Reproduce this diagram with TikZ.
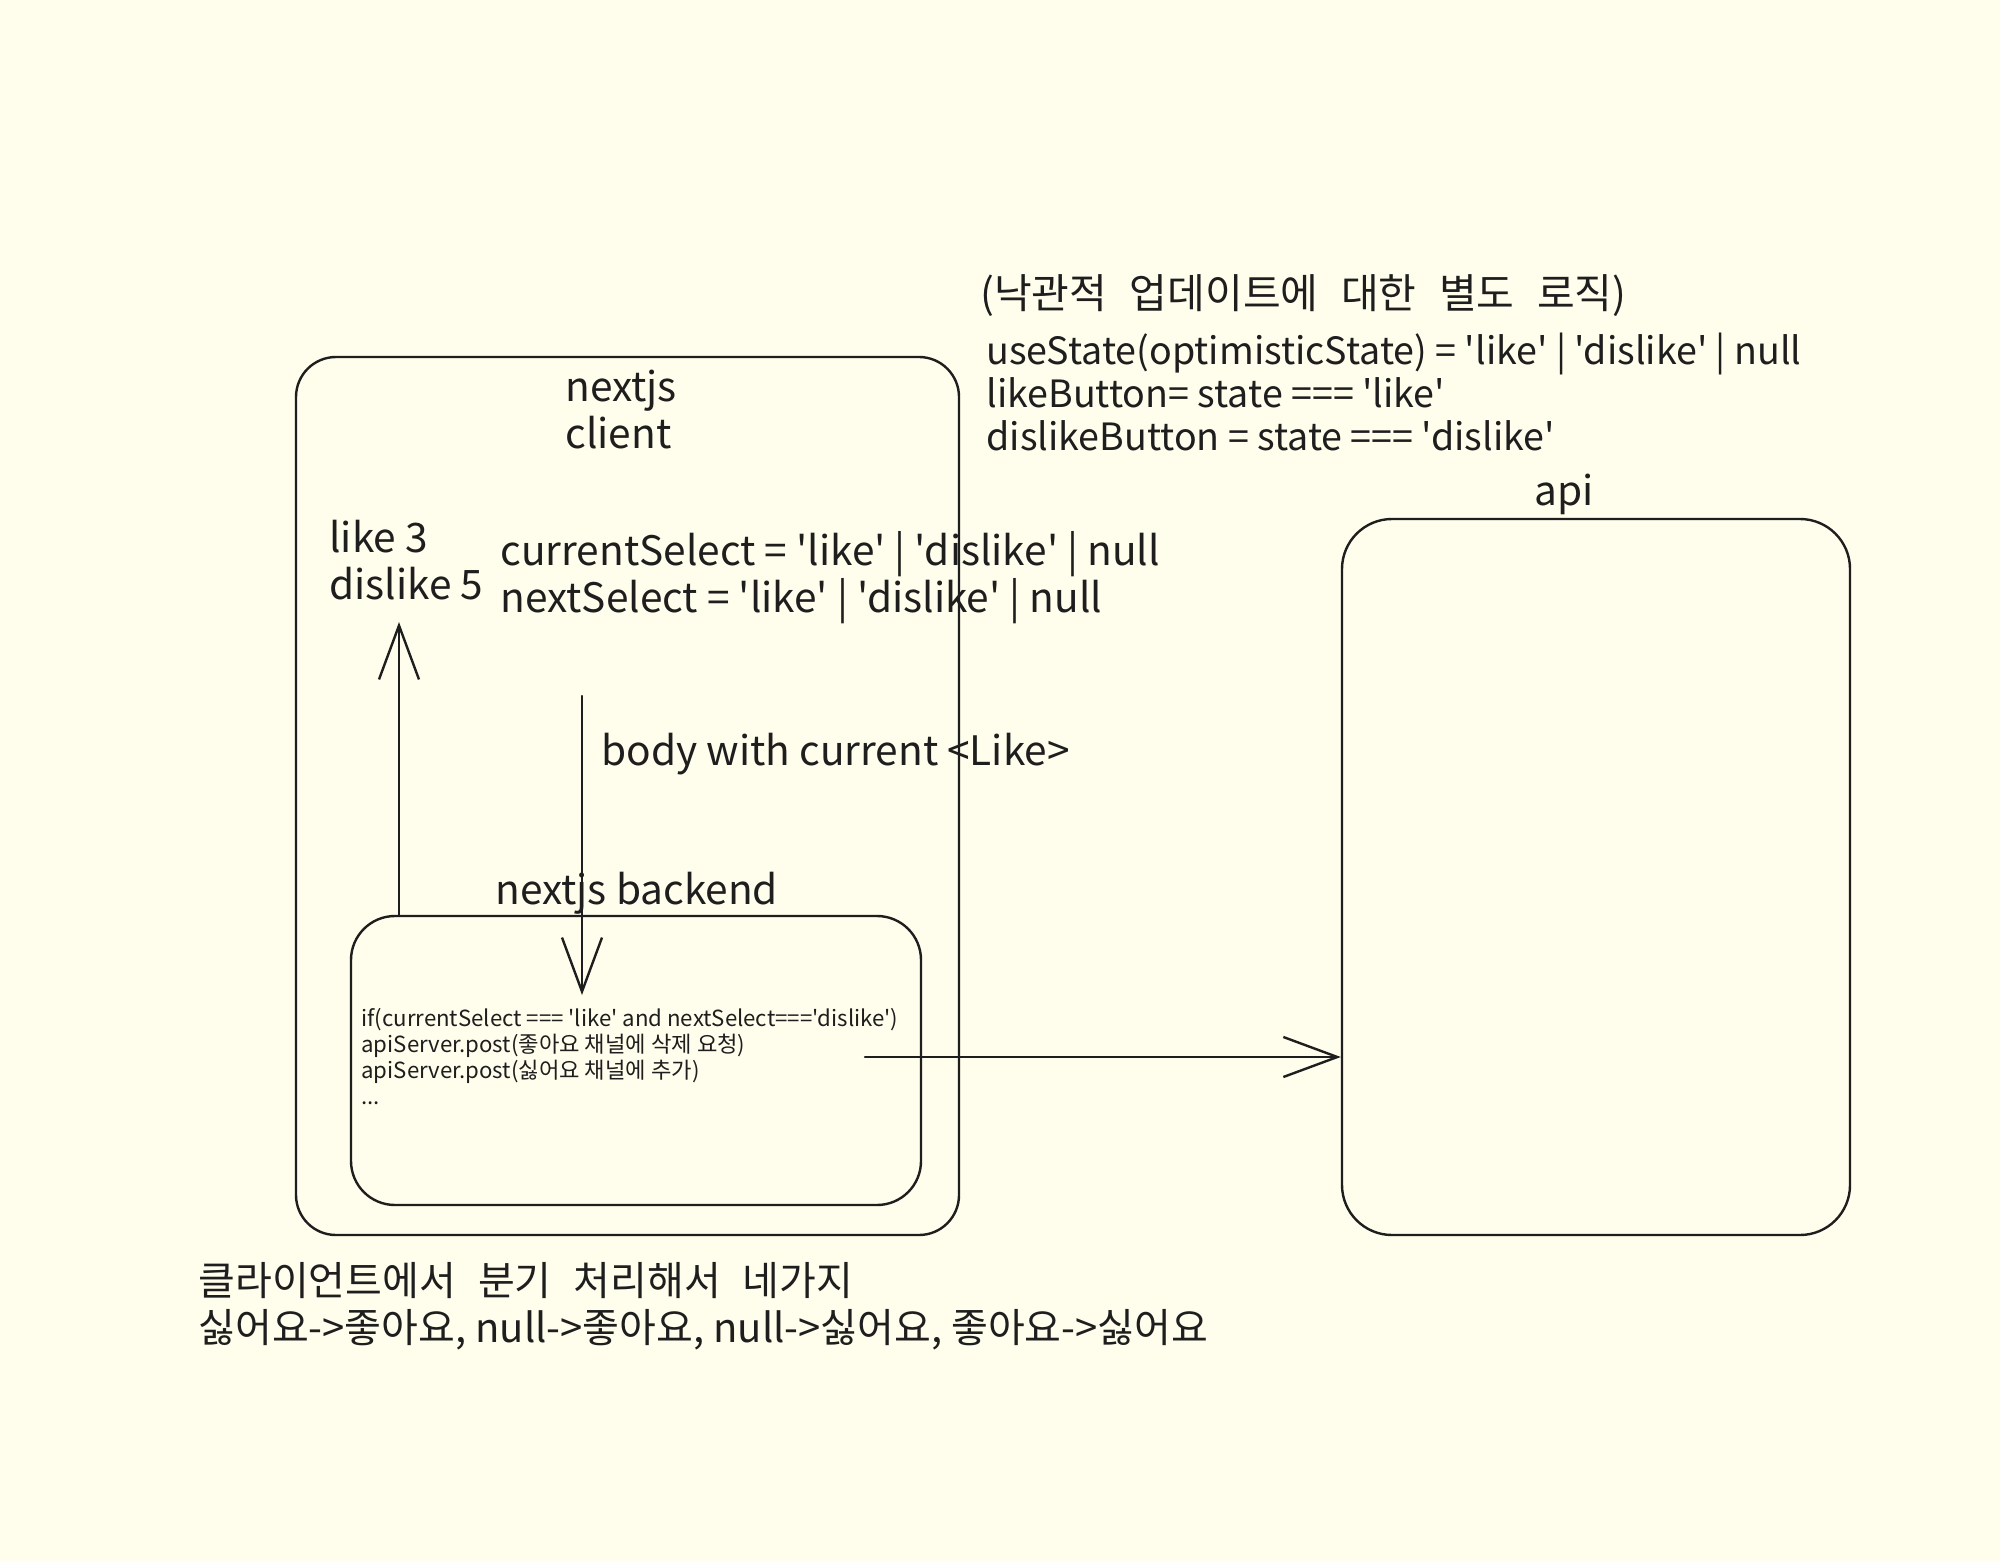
\documentclass[tikz,border=0pt]{standalone}
\usepackage{fontspec}
\newfontfamily\sketchfont{Noto Sans CJK KR}
\usetikzlibrary{arrows.meta, positioning}
\definecolor{paper}{RGB}{255,253,235}
\definecolor{ink}{RGB}{30,30,30}
\newcommand\kgap{\hspace{0.55em}}
\tikzset{
  sketchbox/.style={draw=ink, line width=1.2pt, rounded corners=20pt, inner sep=0pt},
  hand/.style={font=\sketchfont\fontsize{20.3}{23.5}\selectfont, text=ink, align=left,
    inner sep=0pt, anchor=west},
  statetxt/.style={font=\sketchfont\fontsize{18.8}{21.7}\selectfont, text=ink, align=left,
    inner sep=0pt, anchor=west},
  hangul/.style={font=\sketchfont\fontsize{20}{23.5}\selectfont, text=ink, align=left,
    inner sep=0pt, anchor=west},
  codetxt/.style={font=\sketchfont\fontsize{11.1}{13}\selectfont, text=ink, align=left,
    inner sep=0pt, anchor=west},
  arr/.style={-{Straight Barb[length=27pt, width=20pt]}, line width=1.2pt, ink, line cap=round}
}

\begin{document}
\begin{tikzpicture}[x=0.5pt, y=-0.5pt]
  \fill[paper] (0,0) rectangle (2000,1561);
  \useasboundingbox (0,0) rectangle (2000,1561);
  % boxes
  \node[sketchbox, minimum width=331.5pt, minimum height=439pt] (client) at (627.5,796) {};
  \node[sketchbox, rounded corners=22pt, minimum width=285pt, minimum height=144.5pt] (backend) at (636,1060.5) {};
  \node[sketchbox, rounded corners=25pt, minimum width=254pt, minimum height=358pt] (api) at (1596,877) {};
  % labels
  \node[hand] (clientlbl) at (565,410) {nextjs\\client};
  \node[hand, anchor=center] (apilbl) at (1564,494) {api};
  \node[hand] (counts) at (329,560) {like 3\\dislike 5};
  \node[hand] (select) at (500,578) {currentSelect = 'like' | 'dislike' | null\\nextSelect = 'like' | 'dislike' | null};
  \node[hand] (bodylbl) at (601,754) {body with current <Like>};
  \node[hand] (backendlbl) at (495,893) {nextjs backend};
  \node[codetxt] (branch) at (361,1057) {if(currentSelect === 'like' and nextSelect==='dislike')\\apiServer.post(좋아요 채널에 삭제 요청)\\apiServer.post(싫어요 채널에 추가)\\...};
  \node[hangul, font=\sketchfont\fontsize{20.5}{23.5}\selectfont] (optnote) at (980,296) {(낙관적\kgap 업데이트에\kgap 대한\kgap 별도\kgap 로직)};
  \node[statetxt] (statecode) at (986,392) {useState(optimisticState) = 'like' | 'dislike' | null\\likeButton= state === 'like'\\dislikeButton = state === 'dislike'};
  \node[hangul] (summary) at (198,1306) {클라이언트에서\kgap 분기\kgap 처리해서\kgap 네가지\\싫어요->좋아요, null->좋아요, null->싫어요, 좋아요->싫어요};
  % connectors
  \coordinate (likes) at (399,622);
  \coordinate (bodytop) at (582,696);
  \coordinate (bodytip) at (582,995);
  \coordinate (call) at (865,1057);
  \draw[arr] (likes |- backend.north) -- (likes);
  \draw[arr] (bodytop) -- (bodytip);
  \draw[arr] (call) -- (call -| api.west);
\end{tikzpicture}
\end{document}
